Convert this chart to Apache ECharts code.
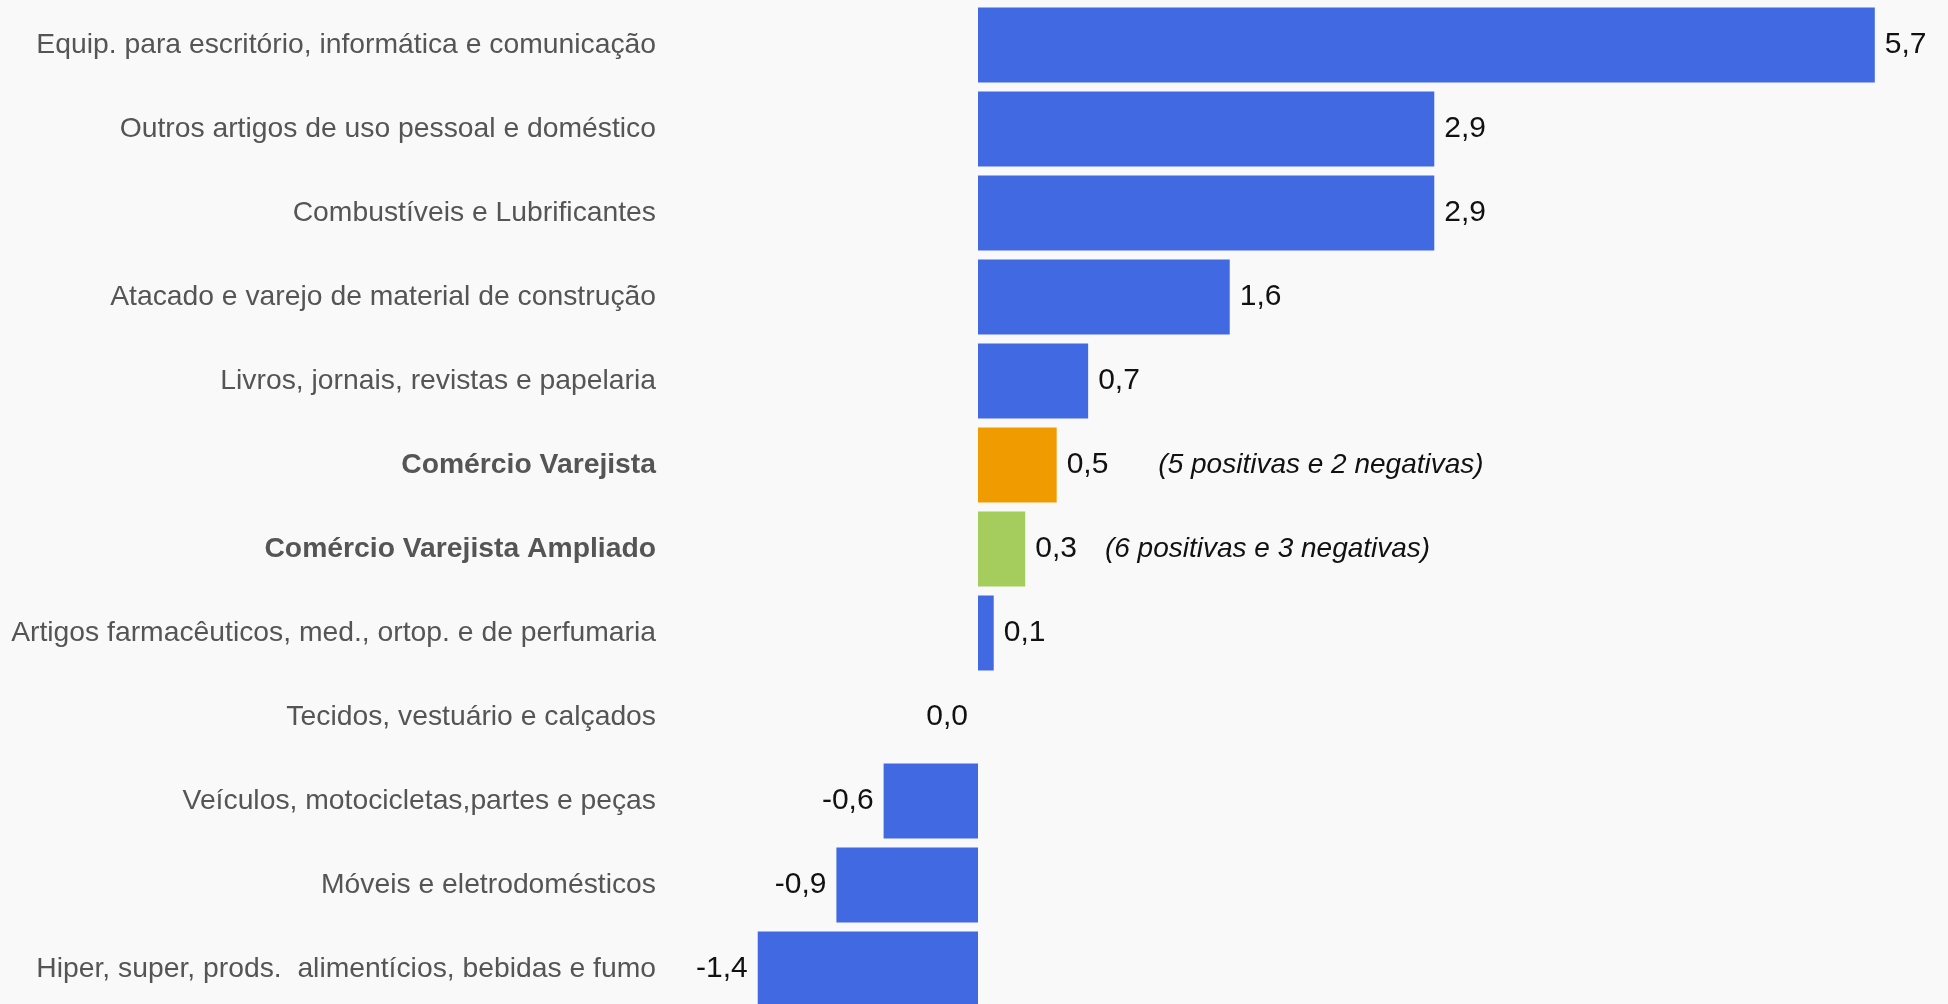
<!DOCTYPE html>
<html>
<head>
<meta charset="utf-8">
<script src="https://cdn.jsdelivr.net/npm/echarts@6/dist/echarts.min.js"></script>
<style>
  html, body { margin: 0; padding: 0; background: #f9f9f9; overflow: hidden; }
  #main { width: 1948px; height: 1004px; }
</style>
</head>
<body>
<div id="main"></div>
<script>
  // categorias, de cima para baixo
  var categorias = [
    'Equip. para escritório, informática e comunicação',
    'Outros artigos de uso pessoal e doméstico',
    'Combustíveis e Lubrificantes',
    'Atacado e varejo de material de construção',
    'Livros, jornais, revistas e papelaria',
    'Comércio Varejista',
    'Comércio Varejista Ampliado',
    'Artigos farmacêuticos, med., ortop. e de perfumaria',
    'Tecidos, vestuário e calçados',
    'Veículos, motocicletas,partes e peças',
    'Móveis e eletrodomésticos',
    'Hiper, super, prods.  alimentícios, bebidas e fumo'
  ];
  var valores = [5.7, 2.9, 2.9, 1.6, 0.7, 0.5, 0.3, 0.1, 0.0, -0.6, -0.9, -1.4];
  var destaques = ['Comércio Varejista', 'Comércio Varejista Ampliado'];
  var notas = ['', '', '', '', '', '(5 positivas e 2 negativas)', '(6 positivas e 3 negativas)', '', '', '', '', ''];

  var corBarra = {
    'Comércio Varejista': '#f09b00',
    'Comércio Varejista Ampliado': '#a4cd5d'
  };
  var fonte = '"Liberation Sans", Arial, sans-serif';

  function fmt(v) {
    return v.toFixed(1).replace('.', ',');
  }

  var dados = valores.map(function (v, i) {
    return {
      value: v,
      itemStyle: { color: corBarra[categorias[i]] || '#4169e1' },
      label: { position: v > 0 ? 'right' : 'left' }
    };
  });

  var myChart = echarts.init(document.getElementById('main'));
  var option = {
    backgroundColor: '#f9f9f9',
    animation: false,
    grid: {
      left: 742,
      right: 26,
      top: 3,
      height: 1008,   // a última barra fica cortada no rodapé, como no original
      outerBoundsMode: 'none'
    },
    xAxis: {
      type: 'value',
      min: -1.5,
      max: 6,
      show: false
    },
    yAxis: {
      type: 'category',
      data: categorias,
      inverse: true,
      axisLine: { show: false },
      axisTick: { show: false },
      splitLine: { show: false },
      axisLabel: {
        margin: 86,
        fontFamily: fonte,
        fontSize: 28.3,
        color: '#555555',
        formatter: function (val) {
          return destaques.indexOf(val) >= 0 ? '{b|' + val + '}' : '{n|' + val + '}';
        },
        rich: {
          n: { fontFamily: fonte, fontSize: 28.3, color: '#555555' },
          b: { fontFamily: fonte, fontSize: 28.3, color: '#555555', fontWeight: 'bold' }
        }
      }
    },
    series: [
      {
        type: 'bar',
        data: dados,
        barWidth: 75,
        label: {
          show: true,
          distance: 10,
          fontFamily: fonte,
          fontSize: 30,
          color: '#111111',
          formatter: function (p) {
            var nota = notas[p.dataIndex];
            if (!nota) return '{v|' + fmt(p.value) + '}';
            return '{v|' + fmt(p.value) + '}{' + (p.dataIndex === 5 ? 'a' : 'c') + '|' + nota + '}';
          },
          rich: {
            v: { fontFamily: fonte, fontSize: 30, color: '#111111' },
            a: { fontFamily: fonte, fontSize: 28, fontStyle: 'italic', color: '#111111', padding: [0, 0, 0, 50] },
            c: { fontFamily: fonte, fontSize: 28, fontStyle: 'italic', color: '#111111', padding: [0, 0, 0, 28] }
          }
        }
      }
    ]
  };
  myChart.setOption(option);
</script>
</body>
</html>
